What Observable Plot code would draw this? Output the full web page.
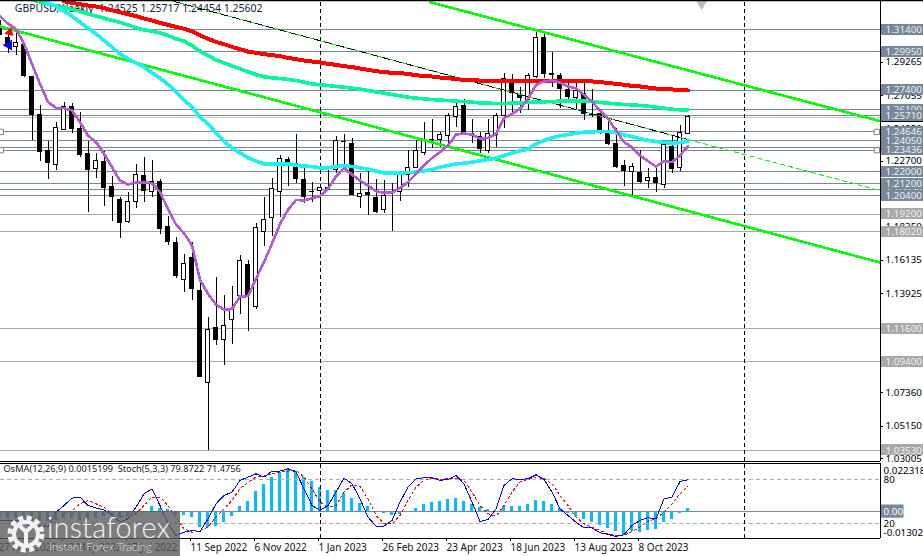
<!DOCTYPE html>
<html><head><meta charset="utf-8">
<script src="https://cdn.jsdelivr.net/npm/d3@7"></script>
<script src="https://cdn.jsdelivr.net/npm/@observablehq/plot@0.6"></script>
<style>
html,body{margin:0;padding:0;background:#fff;width:923px;height:556px;overflow:hidden;font-family:"Noto Sans",sans-serif}
#wrap{position:relative;width:923px;height:556px;overflow:hidden}
.layer{position:absolute;left:0}
svg{display:block;background:transparent!important}
#logo{position:absolute;left:0;top:511px;width:180px;height:45px;background:rgba(92,92,92,.8);color:#f4f4f4;overflow:hidden}
#logo .big{position:absolute;left:47px;top:-2px;font:300 28.8px/36px Lato,sans-serif;letter-spacing:.2px;white-space:nowrap}
#logo .small{position:absolute;left:49px;top:29px;font:300 11.6px/14px Lato,sans-serif;white-space:nowrap;opacity:.85}
#logo svg{position:absolute;left:6px;top:4px}
</style></head><body>
<div id="wrap">
<div id="main" class="layer" style="top:0"></div>
<div id="osma" class="layer" style="top:462px"></div>
<div id="stoch" class="layer" style="top:462px"></div>
<div id="logo">
<svg width="40" height="38" viewBox="0 0 40 38"><circle cx="20" cy="19" r="16" fill="none" stroke="#f2f2f2" stroke-width="5" stroke-dasharray="5 3.4"/><circle cx="20" cy="19" r="12" fill="none" stroke="#f2f2f2" stroke-width="4"/><path d="M13 10 L20 17 L27 10 M20 17 V30" fill="none" stroke="#f2f2f2" stroke-width="4"/></svg>
<div class="big">instaforex</div><div class="small">Instant Forex Tracing</div>
</div>
</div>
<script>
const symbolTitle = "GBPUSD,Weekly  1.24525 1.25717 1.24454 1.25602";
const opens = [1.3159,1.3088,1.3026,1.3042,1.2832,1.2578,1.2341,1.2244,1.2474,1.2633,
1.2485,1.2319,1.2218,1.2268,1.2103,1.2017,1.1866,1.1999,1.2176,1.2065,
1.2136,1.1838,1.1729,1.1484,1.1630,1.1413,1.0799,1.1166,1.1086,1.1219,
1.1380,1.1584,1.1307,1.1800,1.1895,1.2065,1.2279,1.2257,1.2149,1.2070,
1.2072,1.2081,1.2209,1.2401,1.2386,1.2032,1.2063,1.2032,1.1944,1.2031,
1.2065,1.2176,1.2224,1.2324,1.2414,1.2408,1.2436,1.2562,1.2637,1.2456,
1.2436,1.2341,1.2445,1.2573,1.2814,1.2710,1.2679,1.2827,1.3088,1.2849,
1.2836,1.2743,1.2688,1.2721,1.2580,1.2584,1.2456,1.2386,1.2242,1.2196,
1.2196,1.2138,1.2160,1.2114,1.2368,1.2226,1.24525];
const highs = [1.3203,1.3148,1.3137,1.3053,1.2832,1.2640,1.2401,1.2525,1.2662,1.2651,
1.2595,1.2401,1.2324,1.2337,1.2169,1.2032,1.2061,1.2249,1.2293,1.2275,
1.2149,1.1904,1.1763,1.1652,1.1734,1.1458,1.1232,1.1497,1.1380,1.1440,
1.1645,1.1612,1.1855,1.2032,1.2154,1.2308,1.2297,1.2447,1.2220,1.2131,
1.2109,1.2220,1.2434,1.2447,1.2419,1.2187,1.2209,1.2147,1.2143,1.2120,
1.2187,1.2341,1.2408,1.2529,1.2545,1.2463,1.2584,1.2651,1.2677,1.2545,
1.2463,1.2545,1.2584,1.2854,1.2845,1.2761,1.2849,1.3137,1.3126,1.2993,
1.2849,1.2805,1.2783,1.2783,1.2743,1.2589,1.2551,1.2485,1.2275,1.2253,
1.2341,1.2220,1.2242,1.2386,1.2434,1.2507,1.25717];
const lows = [1.3104,1.2982,1.2971,1.2823,1.2408,1.2268,1.2149,1.2209,1.2474,1.2456,
1.2297,1.1933,1.2158,1.1972,1.1873,1.1760,1.1860,1.1955,1.1999,1.2032,
1.1785,1.1712,1.1491,1.1402,1.1347,1.0839,1.0353,1.1049,1.0916,1.1056,
1.1254,1.1144,1.1290,1.1707,1.1771,1.1899,1.2103,1.2125,1.1988,1.1999,
1.1833,1.2076,1.2187,1.2238,1.2043,1.1955,1.1911,1.1922,1.1922,1.1807,
1.2003,1.2098,1.2220,1.2308,1.2352,1.2363,1.2374,1.2496,1.2452,1.2386,
1.2319,1.2324,1.2363,1.2485,1.2584,1.2584,1.2606,1.2816,1.2816,1.2761,
1.2618,1.2651,1.2606,1.2540,1.2562,1.2445,1.2372,1.2220,1.2103,1.2043,
1.2125,1.2092,1.2065,1.2092,1.2187,1.2204,1.24454];
const closes = [1.3104,1.3026,1.3055,1.2832,1.2573,1.2330,1.2257,1.2492,1.2629,1.2480,
1.2306,1.2209,1.2271,1.2087,1.2032,1.1860,1.2001,1.2182,1.2072,1.2131,
1.1818,1.1734,1.1506,1.1586,1.1422,1.0839,1.1153,1.1082,1.1179,1.1292,
1.1608,1.1374,1.1829,1.1882,1.2087,1.2286,1.2253,1.2149,1.2032,1.2066,
1.2094,1.2092,1.2401,1.2392,1.2043,1.2054,1.2043,1.1933,1.2039,1.2027,
1.2176,1.2226,1.2335,1.2408,1.2408,1.2445,1.2567,1.2629,1.2456,1.2445,
1.2346,1.2452,1.2573,1.2814,1.2717,1.2688,1.2836,1.3088,1.2845,1.2838,
1.2746,1.2690,1.2735,1.2578,1.2573,1.2474,1.2381,1.2231,1.2202,1.2235,
1.2129,1.2160,1.2120,1.2379,1.2215,1.2458,1.25602];
const emaPurple = [1.3232,1.3181,1.3148,1.3048,1.2916,1.2783,1.2662,1.2624,1.2622,1.2606,
1.2529,1.2441,1.2397,1.2319,1.2231,1.2142,1.2116,1.2129,1.2129,1.2125,
1.2065,1.1955,1.1851,1.1793,1.1712,1.1484,1.1391,1.1321,1.1287,1.1290,
1.1374,1.1376,1.1491,1.1601,1.1723,1.1855,1.1948,1.2014,1.2010,1.2025,
1.2039,1.2087,1.2169,1.2226,1.2182,1.2142,1.2109,1.2072,1.2061,1.2063,
1.2094,1.2131,1.2187,1.2242,1.2291,1.2330,1.2374,1.2447,1.2454,1.2447,
1.2419,1.2425,1.2452,1.2558,1.2584,1.2617,1.2682,1.2777,1.2799,1.2805,
1.2790,1.2766,1.2754,1.2710,1.2666,1.2606,1.2551,1.2474,1.2397,1.2363,
1.2308,1.2271,1.2235,1.2271,1.2264,1.2308,1.2370];
const emaCyan = [1.3358,1.3318,1.3296,1.3265,1.3232,1.3192,1.3152,1.3115,1.3070,1.3026,
1.2982,1.2949,1.2922,1.2894,1.2856,1.2821,1.2779,1.2728,1.2677,1.2629,
1.2562,1.2518,1.2458,1.2403,1.2357,1.2324,1.2293,1.2271,1.2253,1.2251,
1.2253,1.2253,1.2244,1.2238,1.2235,1.2226,1.2226,1.2235,1.2242,1.2235,
1.2226,1.2218,1.2204,1.2193,1.2191,1.2191,1.2195,1.2198,1.2207,1.2215,
1.2231,1.2242,1.2253,1.2257,1.2264,1.2273,1.2282,1.2291,1.2308,1.2324,
1.2339,1.2350,1.2386,1.2408,1.2425,1.2439,1.2447,1.2456,1.2463,1.2465,
1.2467,1.2467,1.2458,1.2445,1.2434,1.2419,1.2408,1.2401,1.2394,1.2390,
1.2394,1.2403];
const emaTeal = [1.3340,1.3327,1.3313,1.3300,1.3291,1.3276,1.3265,1.3247,1.3232,1.3218,
1.3203,1.3190,1.3174,1.3154,1.3141,1.3132,1.3121,1.3104,1.3081,1.3066,
1.3037,1.2999,1.2971,1.2942,1.2922,1.2902,1.2883,1.2863,1.2845,1.2830,
1.2823,1.2819,1.2812,1.2805,1.2794,1.2783,1.2777,1.2772,1.2766,1.2761,
1.2754,1.2748,1.2739,1.2730,1.2721,1.2712,1.2704,1.2695,1.2688,1.2684,
1.2679,1.2675,1.2673,1.2668,1.2666,1.2662,1.2657,1.2655,1.2653,1.2653,
1.2655,1.2657,1.2660,1.2662,1.2664,1.2666,1.2668,1.2670,1.2668,1.2668,
1.2666,1.2660,1.2655,1.2651,1.2646,1.2644,1.2640,1.2635,1.2629,1.2622,
1.2615,1.2611,1.2611];
const emaRed = [1.3331,1.3320,1.3311,1.3302,1.3296,1.3285,1.3271,1.3258,1.3245,1.3232,
1.3216,1.3203,1.3187,1.3174,1.3161,1.3148,1.3132,1.3106,1.3081,1.3061,
1.3046,1.3028,1.3013,1.2997,1.2989,1.2980,1.2973,1.2967,1.2955,1.2947,
1.2938,1.2931,1.2925,1.2916,1.2909,1.2900,1.2894,1.2885,1.2876,1.2867,
1.2861,1.2856,1.2854,1.2849,1.2840,1.2836,1.2832,1.2825,1.2821,1.2814,
1.2810,1.2807,1.2805,1.2803,1.2801,1.2801,1.2799,1.2799,1.2799,1.2799,
1.2799,1.2799,1.2799,1.2799,1.2799,1.2799,1.2799,1.2794,1.2790,1.2783,
1.2777,1.2770,1.2766,1.2759,1.2752,1.2748,1.2746,1.2741,1.2739];
const osmaValues = [-0.0031,-0.0031,-0.0031,-0.0039,-0.0047,-0.0047,-0.0047,-0.0044,-0.0034,-0.0034,
-0.0044,-0.0041,-0.0031,-0.0025,-0.0025,-0.0034,-0.0025,-0.0016,-0.0003,0.0023,
0.0016,0.0008,-0.0012,-0.0020,-0.0028,-0.0075,-0.0075,-0.0070,-0.0055,-0.0023,
0.0027,0.0050,0.0097,0.0133,0.0167,0.0190,0.0203,0.0195,0.0167,0.0144,
0.0117,0.0101,0.0101,0.0090,0.0062,0.0039,0.0023,0.0001,-0.0011,-0.0020,
-0.0012,0.0001,0.0016,0.0034,0.0044,0.0050,0.0059,0.0062,0.0050,0.0036,
0.0019,0.0008,-0.0003,0.0027,0.0027,0.0027,0.0036,0.0055,0.0050,0.0036,
0.0016,-0.0008,-0.0023,-0.0039,-0.0055,-0.0067,-0.0081,-0.0094,-0.0114,-0.0098,
-0.0101,-0.0090,-0.0086,-0.0055,-0.0039,-0.0011,0.0015199];
const stochMain = [24.6,24.6,24.6,22.3,15.5,16.8,15.5,35.9,45.0,55.0,
56.4,45.0,41.4,39.1,32.3,22.3,26.8,42.7,60.9,67.7,
45.0,20.0,4.1,8.6,10.9,9.6,26.8,47.3,58.6,63.2,
79.1,83.6,88.2,83.6,91.8,91.8,95.0,90.5,67.7,45.0,
38.2,45.0,63.2,82.3,74.5,54.1,29.1,16.8,16.8,24.6,
49.6,70.0,81.4,82.7,82.7,79.1,80.5,85.9,74.5,49.6,
23.2,25.9,40.5,72.3,81.4,80.5,81.4,86.8,80.5,63.2,
40.5,31.4,22.3,14.6,14.6,7.8,5.5,2.7,5.0,17.8,
24.6,28.2,26.8,54.1,56.4,77.7,79.87];
const stochSignal = [24.6,24.6,24.6,24.6,20.0,17.8,16.8,22.3,33.7,38.2,
47.3,51.8,47.3,42.7,33.7,31.4,26.8,33.7,45.0,56.4,
56.4,45.0,29.1,13.2,8.6,10.9,15.5,29.1,40.5,51.8,
67.7,76.8,83.6,85.0,88.2,90.5,91.8,92.7,83.6,67.7,
49.6,42.7,45.0,63.2,73.2,71.4,54.1,31.4,20.0,20.0,
31.4,51.8,70.0,79.1,82.3,80.5,81.4,82.3,79.1,63.2,
45.0,33.7,30.5,45.0,63.2,76.8,80.5,83.6,81.4,74.5,
58.6,45.0,29.1,20.0,15.5,10.9,6.4,4.1,4.1,9.6,
15.5,23.6,26.8,35.9,47.3,60.9,71.48];
const slateLevels = [1.3140,1.2995,1.2740,1.2610,1.2571,1.24646,1.2405,1.2360,1.23436,1.2200,1.2120,1.2085,1.2040];
const grayLevels = [1.1920,1.1802,1.1160,1.0940,1.0353];
const currentPrice = 1.25602;
const axisTicks = [1.29265,1.27055,1.24850,1.22700,1.20480,1.18350,1.16135,1.13925,1.07360,1.05150,1.03005];
const boxOrder = [1.3140,1.2995,1.2740,1.2610,1.25602,1.2571,1.2405,1.24646,1.23436,1.2200,1.2085,1.2120,1.2040,1.1920,1.1802,1.1160,1.0940,1.0353];
const dateTicks = [0,8,16,24,32,40,48,56,64,72,80];
const dateLabels = ["27 Mar 2022","22 May 2022","17 Jul 2022","11 Sep 2022","6 Nov 2022","1 Jan 2023","26 Feb 2023","23 Apr 2023","18 Jun 2023","13 Aug 2023","8 Oct 2023"];
const channelUpper = {i:[53.8,110],p:[1.3324,1.2536]};
const channelLower = {i:[0.0625,110],p:[1.3163,1.1599]};
const channelMid = {i:[21.3,86],p:[1.33355,1.2414]};
const channelMidExt = {i:[86,110],p:[1.2414,1.2076]};
const eventBars = [40,93];

const W=923, AX=110, LBL=110.7, SUBLBL=110.45, BOX1=110.2, BOX2=115.4375;
const bars = opens.map((o,i)=>({i,o,h:highs[i],l:lows[i],c:closes[i]}));
const up = bars.filter(d=>d.c>=d.o), down = bars.filter(d=>d.c<d.o);
const ser = a => a.map((p,k)=>({i:87-a.length+k,p}));
const seg = s => s.i.map((i,k)=>({i,p:s.p[k]}));
const xScale = {axis:null,label:null,type:"linear",domain:[0.0625,115.4375],range:[0,W]};
const FONT = {fontFamily:"'Noto Sans',sans-serif",fontSize:"9.8px",background:"transparent",overflow:"hidden"};
const SLATE="#778899", GRAY="#A9A9A9", CRISP="crispEdges";
const mainH=466, priceMin=1.02469, priceMax=1.33355, frameLow=1.0280, half=0.00365;

const boxMarks = boxOrder.flatMap(v=>{
  const tag = v===currentPrice;
  const col = tag?"#000":(grayLevels.includes(v)?GRAY:SLATE);
  return [
    Plot.rect([v],{x1:BOX1,x2:BOX2,y1:d=>d-half,y2:d=>d+half,fill:col,shapeRendering:CRISP}),
    Plot.text([v],{x:LBL,y:d=>d,text:d=>d.toFixed(5),textAnchor:"start",fill:tag?"#fff":"#eef1f4"})
  ];
});

const main = Plot.plot({
  width:W,height:mainH,marginLeft:0,marginRight:0,marginTop:0,marginBottom:0,style:FONT,
  x:xScale,y:{axis:null,label:null,domain:[priceMin,priceMax],range:[mainH,0]},
  marks:[
    Plot.text([symbolTitle],{x:1.85,y:1.3283,text:d=>d,textAnchor:"start",fill:"#10203a",fontSize:"10.5px"}),
    Plot.ruleY(slateLevels,{x1:0.0625,x2:AX,stroke:SLATE,strokeWidth:1,shapeRendering:CRISP}),
    Plot.ruleY(grayLevels,{x1:0.0625,x2:AX,stroke:GRAY,strokeWidth:1,shapeRendering:CRISP}),
    Plot.ruleY([currentPrice],{x1:0.0625,x2:AX,stroke:"#C8C8C8",strokeWidth:1,shapeRendering:CRISP}),
    Plot.ruleX(eventBars,{y1:frameLow,y2:priceMax,stroke:"#000",strokeWidth:1,strokeDasharray:"4 3",shapeRendering:CRISP}),
    Plot.ruleX(bars,{x:"i",y1:"l",y2:"h",stroke:"#000",strokeWidth:1,shapeRendering:CRISP}),
    Plot.rect(down,{x1:d=>d.i-0.3125,x2:d=>d.i+0.3125,y1:"o",y2:"c",fill:"#000",shapeRendering:CRISP}),
    Plot.rect(up,{x1:d=>d.i-0.25,x2:d=>d.i+0.25,y1:"o",y2:"c",fill:"#fff",stroke:"#000",strokeWidth:1,shapeRendering:CRISP}),
    Plot.line(seg(channelUpper),{x:"i",y:"p",stroke:"#00FF00",strokeWidth:2.6,shapeRendering:CRISP}),
    Plot.line(seg(channelLower),{x:"i",y:"p",stroke:"#00FF00",strokeWidth:2.6,shapeRendering:CRISP}),
    Plot.line(seg(channelMid),{x:"i",y:"p",stroke:"#000",strokeWidth:1,shapeRendering:CRISP}),
    Plot.line(seg(channelMid),{x:"i",y:"p",stroke:"#00FF00",strokeWidth:1,strokeDasharray:"3 9",shapeRendering:CRISP}),
    Plot.line(seg(channelMidExt),{x:"i",y:"p",stroke:"#00FF00",strokeWidth:1,strokeDasharray:"4 4",shapeRendering:CRISP}),
    Plot.line(ser(emaRed),{x:"i",y:"p",stroke:"#FF0000",strokeWidth:4,shapeRendering:CRISP}),
    Plot.line(ser(emaTeal),{x:"i",y:"p",stroke:"#00FA9A",strokeWidth:3.6,shapeRendering:CRISP}),
    Plot.line(ser(emaCyan),{x:"i",y:"p",stroke:"#18F2F2",strokeWidth:3.6,shapeRendering:CRISP}),
    Plot.line(ser(emaPurple),{x:"i",y:"p",stroke:"#B858D8",strokeWidth:2.6,shapeRendering:CRISP}),
    Plot.dot([{i:1.1,p:1.3040}],{x:"i",y:"p",symbol:"triangle",r:4,fill:"#0000FF",rotate:-90}),
    Plot.dot([{i:1.2,p:1.3125}],{x:"i",y:"p",symbol:"triangle",r:3.5,fill:"#FF0000",rotate:135}),
    Plot.dot([{i:87.7,p:1.3322}],{x:"i",y:"p",symbol:"triangle",r:5,fill:"#BDBDBD",rotate:180}),
    Plot.dot([1.24646,1.23436].flatMap(p=>[{i:0.1,p},{i:109.6,p}]),{x:"i",y:"p",symbol:"square",r:3,fill:"#fff",stroke:"#808080",strokeWidth:1}),
    Plot.ruleX([AX],{y1:frameLow,y2:priceMax,stroke:"#000",strokeWidth:1,shapeRendering:CRISP}),
    Plot.ruleY([priceMax],{x1:0.0625,x2:BOX2,stroke:"#000",strokeWidth:1.5}),
    Plot.ruleY([frameLow],{x1:0.0625,x2:AX,stroke:"#000",strokeWidth:1,shapeRendering:CRISP}),
    Plot.ruleY(axisTicks,{x1:AX,x2:110.45,stroke:"#000",strokeWidth:1,shapeRendering:CRISP}),
    Plot.text(axisTicks,{x:LBL,y:d=>d,text:d=>d.toFixed(5),textAnchor:"start",fill:"#000"}),
    ...boxMarks
  ]
});
document.getElementById("main").append(main);

const subH=94, subTop=3, subBottom=18;
const osma = Plot.plot({
  width:W,height:subH,marginLeft:0,marginRight:0,marginTop:subTop,marginBottom:subBottom,style:FONT,
  x:xScale,y:{axis:null,label:null,domain:[-0.013022,0.022318]},
  marks:[
    Plot.rect(osmaValues.map((v,i)=>({i,v})),{x1:d=>d.i-0.1875,x2:d=>d.i+0.1875,y1:0,y2:"v",fill:"#00BFFF",shapeRendering:CRISP}),
    Plot.ruleY([0],{x1:0.0625,x2:AX,stroke:SLATE,strokeWidth:1.5,shapeRendering:CRISP}),
    Plot.rect([0],{x1:BOX1,x2:113,y1:-0.0032,y2:0.0032,fill:SLATE}),
    Plot.text(["0.00"],{x:SUBLBL,y:0,text:d=>d,textAnchor:"start",fill:"#fff"}),
    Plot.text(["0.022318"],{x:SUBLBL,y:0.022318,dy:5,text:d=>d,textAnchor:"start",fill:"#000"}),
    Plot.text(["-0.013022"],{x:SUBLBL,y:-0.013022,dy:-6,text:d=>d,textAnchor:"start",fill:"#000"})
  ]
});
document.getElementById("osma").append(osma);

const stochLevels=[80,20];
const stoch = Plot.plot({
  width:W,height:subH,marginLeft:0,marginRight:0,marginTop:2.6,marginBottom:subBottom,style:FONT,
  x:xScale,y:{axis:null,label:null,domain:[0,100]},
  marks:[
    Plot.ruleY(stochLevels,{x1:0.0625,x2:AX,stroke:"#B0B0B0",strokeWidth:1,strokeDasharray:"4 3",shapeRendering:CRISP}),
    Plot.ruleX(eventBars,{y1:0,y2:102,stroke:"#000",strokeWidth:1,strokeDasharray:"4 3",shapeRendering:CRISP}),
    Plot.line(stochSignal.map((p,i)=>({i,p})),{x:"i",y:"p",stroke:"#FF0000",strokeWidth:1,strokeDasharray:"2 3",shapeRendering:CRISP}),
    Plot.line(stochMain.map((p,i)=>({i,p})),{x:"i",y:"p",stroke:"#0000FF",strokeWidth:1,shapeRendering:CRISP}),
    Plot.text(stochLevels,{x:SUBLBL,y:d=>d,text:d=>d,textAnchor:"start",fill:"#000"}),
    Plot.text(["OsMA(12,26,9) 0.0015199  Stoch(5,3,3) 79.8722 71.4756"],{x:0.45,y:95,text:d=>d,textAnchor:"start",fill:"#222",fontSize:"9.2px"}),
    Plot.ruleX([AX],{y1:0,y2:102,stroke:"#000",strokeWidth:1,shapeRendering:CRISP}),
    Plot.ruleY([0],{x1:0.0625,x2:AX,stroke:"#000",strokeWidth:1,shapeRendering:CRISP}),
    Plot.ruleY([102],{x1:0.0625,x2:AX,stroke:"#000",strokeWidth:1,shapeRendering:CRISP}),
    Plot.axisX(dateTicks,{anchor:"bottom",label:null,tickSize:3,tickPadding:2,dx:-1.5,textAnchor:"start",fontSize:"10px",tickFormat:d=>dateLabels[dateTicks.indexOf(d)],fill:"#111",stroke:"#000"})
  ]
});
document.getElementById("stoch").append(stoch);
</script>
</body></html>
